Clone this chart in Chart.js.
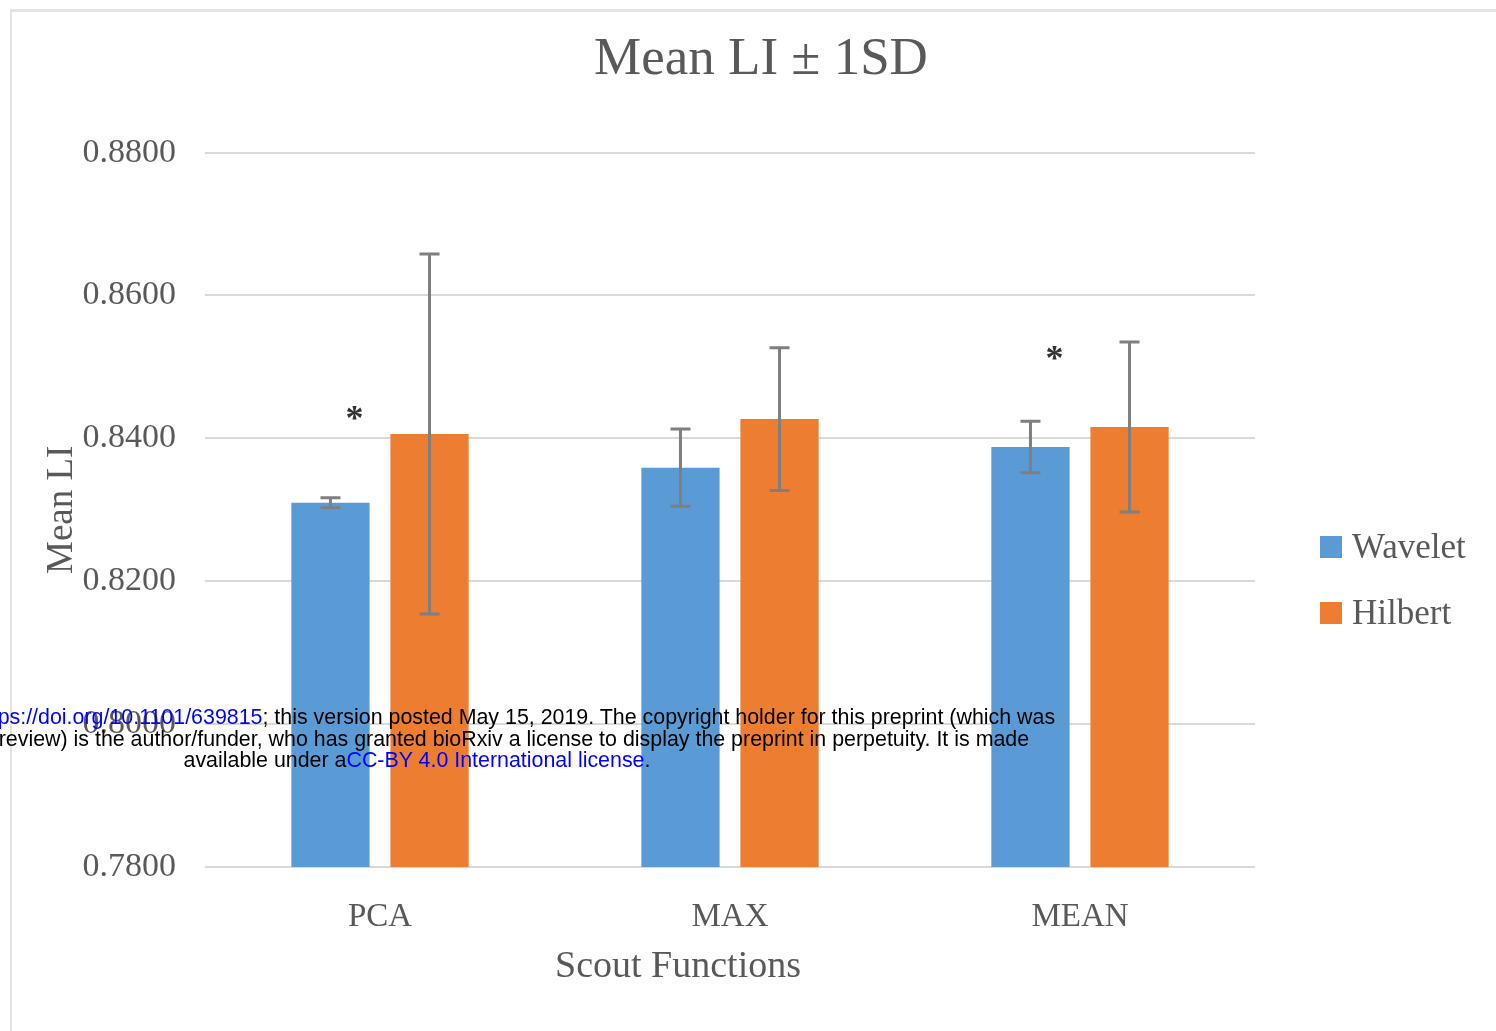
<!DOCTYPE html>
<html>
<head>
<meta charset="utf-8">
<script src="https://cdn.jsdelivr.net/npm/chart.js@4.4.1/dist/chart.umd.min.js"></script>
<style>
  html, body { margin: 0; padding: 0; background: #fff; overflow: hidden; }
  #wrap { position: relative; width: 1496px; height: 1031px; }
  #frame { position: absolute; left: 10px; top: 9px; width: 1500px; height: 1040px;
           border-left: 2px solid #e3e3e3; border-top: 3px solid #e3e3e3; }
  #chart { position: absolute; left: 0; top: 0; }
  #legend { position: absolute; left: 1320px; top: 527px; font-family: "Liberation Serif", serif;
            font-size: 35px; color: #595959; }
  #legend .item { height: 66px; display: flex; align-items: flex-start; }
  #legend .box { width: 22px; height: 22px; margin-top: 9px; margin-right: 10px; }
  #note { position: absolute; left: -283px; top: 707px; width: 1400px; text-align: center;
          font-family: "Liberation Sans", Arial, sans-serif; font-size: 21.4px; line-height: 21.5px; color: #000; }
  #note span { color: #0000ff; }
</style>
</head>
<body>
<div id="wrap">
  <div id="frame"></div>
  <canvas id="chart" width="1496" height="1031"></canvas>
  <div id="legend"></div>
  <div id="note">bioRxiv preprint doi: <span>https://doi.org/10.1101/639815</span>; this version posted May 15, 2019. The copyright holder for this preprint (which was<br>not certified by peer review) is the author/funder, who has granted bioRxiv a license to display the preprint in perpetuity. It is made<br>available under a<span>CC-BY 4.0 International license</span>.</div>
</div>
<script>
var categories = ["PCA", "MAX", "MEAN"];
var waveletMean = [0.8310, 0.8359, 0.8388];
var waveletSD = [0.0007, 0.0054, 0.0036];
var hilbertMean = [0.8406, 0.8427, 0.8416];
var hilbertSD = [0.0252, 0.0100, 0.0119];
// position of the significance asterisk above the Wavelet bar (null = none)
var waveletStar = [0.8436, null, 0.8520];
var yTicks = [0.78, 0.80, 0.82, 0.84, 0.86, 0.88];
var xTitle = "Scout Functions";

var gray = "#595959";
var serif = "'Liberation Serif', 'Times New Roman', serif";

var errorBars = {
  id: "errorBars",
  afterLayout: function (chart) {
    // title is centred on the whole frame, not on the padded box
    if (chart.titleBlock) { chart.titleBlock.left = 26; chart.titleBlock.right = 1496; }
  },
  afterDatasetsDraw: function (chart) {
    var ctx = chart.ctx;
    var y = chart.scales.y;
    ctx.save();
    chart.data.datasets.forEach(function (ds, di) {
      var meta = chart.getDatasetMeta(di);
      meta.data.forEach(function (bar, i) {
        var sd = ds.sd[i];
        var yTop = y.getPixelForValue(ds.data[i] + sd);
        var yBot = y.getPixelForValue(ds.data[i] - sd);
        ctx.strokeStyle = "#7f7f7f";
        ctx.lineWidth = 3;
        ctx.beginPath();
        ctx.moveTo(bar.x, yTop); ctx.lineTo(bar.x, yBot);
        ctx.moveTo(bar.x - 10, yTop); ctx.lineTo(bar.x + 10, yTop);
        ctx.moveTo(bar.x - 10, yBot); ctx.lineTo(bar.x + 10, yBot);
        ctx.stroke();
        if (ds.star && ds.star[i] != null) {
          ctx.fillStyle = "#333";
          ctx.font = "bold 36px " + serif;
          ctx.textAlign = "center";
          ctx.textBaseline = "middle";
          ctx.fillText("*", bar.x + 24, y.getPixelForValue(ds.star[i]) + 8);
        }
      });
    });
    // x axis title, sits a bit left of the plot centre in the original
    var area = chart.chartArea;
    ctx.fillStyle = gray;
    ctx.font = "38px " + serif;
    ctx.textAlign = "center";
    ctx.textBaseline = "middle";
    ctx.fillText(xTitle, (area.left + area.right) / 2 - 52, 967);
    ctx.restore();
  }
};

var chart = new Chart(document.getElementById("chart"), {
  type: "bar",
  data: {
    labels: categories,
    datasets: [
      { label: "Wavelet", data: waveletMean, sd: waveletSD, star: waveletStar,
        backgroundColor: "#5B9BD5", categoryPercentage: 0.566, barPercentage: 0.79 },
      { label: "Hilbert", data: hilbertMean, sd: hilbertSD,
        backgroundColor: "#ED7D31", categoryPercentage: 0.566, barPercentage: 0.79 }
    ]
  },
  options: {
    responsive: false,
    animation: false,
    layout: { padding: { left: 40, right: 241, top: 0, bottom: 42 } },
    plugins: {
      legend: { display: false },
      tooltip: { enabled: false },
      title: {
        display: true,
        text: "Mean LI \u00b1 1SD",
        color: gray,
        font: { family: serif, size: 53, weight: "normal" },
        padding: { top: 28, bottom: 61 }
      }
    },
    scales: {
      x: {
        afterFit: function (scale) { scale.height = 122; },
        grid: { display: false, drawTicks: false },
        border: { display: false },
        ticks: { color: gray, font: { family: serif, size: 33 }, padding: 31 }
      },
      y: {
        min: yTicks[0],
        max: yTicks[yTicks.length - 1],
        afterBuildTicks: function (scale) {
          scale.ticks = yTicks.map(function (v) { return { value: v }; });
        },
        afterFit: function (scale) { scale.width = 165; },
        grid: { color: "#d9d9d9", lineWidth: 2, drawTicks: false },
        border: { display: false },
        ticks: {
          color: gray, font: { family: serif, size: 34 }, padding: 29,
          callback: function (v) { return Number(v).toFixed(4); }
        },
        title: { display: true, text: "Mean LI", color: gray,
                 font: { family: serif, size: 37 }, padding: { top: 0, bottom: 0 } }
      }
    }
  },
  plugins: [errorBars]
});

var legend = document.getElementById("legend");
chart.data.datasets.forEach(function (ds) {
  var item = document.createElement("div");
  item.className = "item";
  var box = document.createElement("div");
  box.className = "box";
  box.style.background = ds.backgroundColor;
  var txt = document.createElement("span");
  txt.textContent = ds.label;
  item.appendChild(box);
  item.appendChild(txt);
  legend.appendChild(item);
});
</script>
</body>
</html>
